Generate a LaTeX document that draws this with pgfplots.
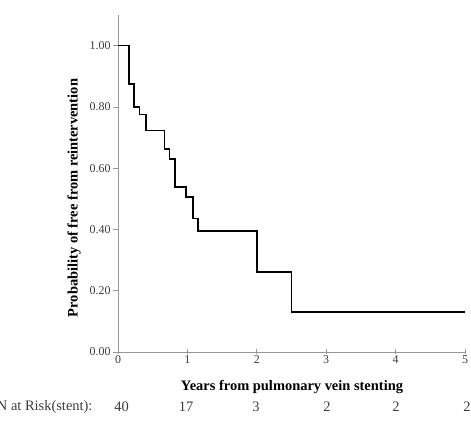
\documentclass[border=0pt]{standalone}
\usepackage{pgfplots}
\pgfplotsset{compat=1.18}
\usepackage{fontspec}
\setmainfont{Liberation Serif}
\definecolor{axgray}{RGB}{150,150,150}
\definecolor{txtgray}{RGB}{60,60,60}
\begin{document}
\begin{tikzpicture}[x=1bp,y=1bp]
\useasboundingbox (0,0) rectangle (471,436);
\begin{axis}[
  at={(118bp,84bp)}, anchor=south west,
  scale only axis, width=347bp, height=337bp,
  xmin=0, xmax=5, ymin=0, ymax=1.1,
  axis lines=left,
  axis line style={axgray, line width=0.9pt, -},
  xtick={0,1,2,3,4,5},
  ytick={0,0.2,0.4,0.6,0.8,1.0},
  yticklabel style={xshift=1bp, /pgf/number format/.cd, fixed, fixed zerofill, precision=2},
  /pgf/number format/assume math mode=true,
  tick style={axgray, line width=0.8pt},
  xtick align=center, ytick align=outside,
  major tick length=5bp,
  tick label style={font=\fontsize{12}{14}\selectfont, text=txtgray},
  xticklabel style={yshift=2bp},
  clip=false,
]
\addplot[const plot, black, line width=1.7pt] coordinates {
(0,1.000) (0.158,0.875) (0.235,0.800) (0.31,0.775) (0.40,0.723)
(0.67,0.663) (0.74,0.629) (0.82,0.538) (0.98,0.506) (1.085,0.436)
(1.15,0.394) (2.0,0.262) (2.5,0.131) (5.0,0.131)
};
\end{axis}
\node[rotate=90, font=\fontsize{14.5}{16}\selectfont\bfseries] at (74,238) {Probability of free from reintervention};
\node[font=\fontsize{14.5}{16}\selectfont\bfseries] at (292,49.3) {Years from pulmonary vein stenting};
\node[anchor=east, font=\fontsize{14.5}{16}\selectfont, text=txtgray] at (96,29) {N at Risk(stent):};
\foreach \xx/\nn in {121.7/40, 186/17, 256/3, 327/2, 396/2, 467/2} {
  \node[font=\fontsize{14.5}{16}\selectfont, text=txtgray] at (\xx,29) {\nn};
}
\end{tikzpicture}
\end{document}
